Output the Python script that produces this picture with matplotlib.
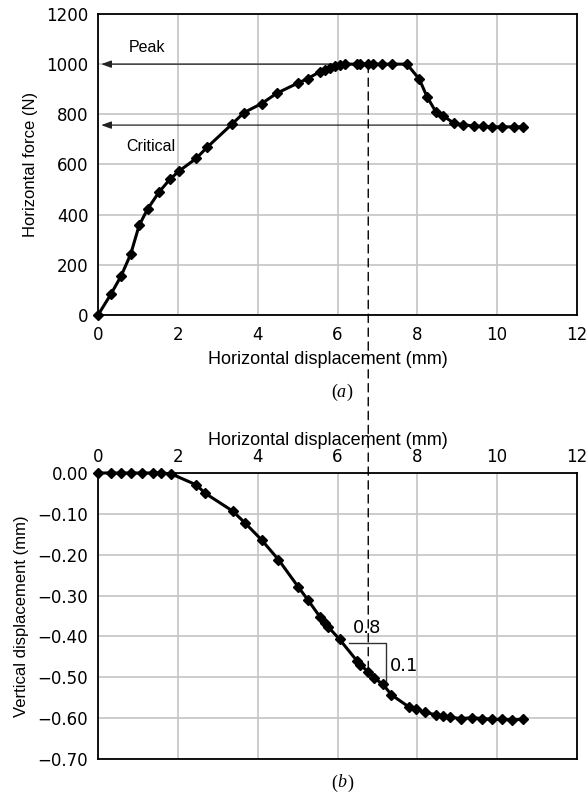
import matplotlib
matplotlib.use("Agg")
import matplotlib.pyplot as plt
from matplotlib.patches import ConnectionPatch

# (a) horizontal force vs horizontal displacement
dx_a = [0, 0.32, 0.58, 0.82, 1.03, 1.24, 1.53, 1.80, 2.04, 2.46, 2.73, 3.35,
        3.66, 4.10, 4.48, 5.00, 5.25, 5.56, 5.69, 5.80, 5.94, 6.07, 6.19, 6.48,
        6.57, 6.77, 6.90, 7.11, 7.36, 7.74, 8.05, 8.24, 8.47, 8.64, 8.91, 9.14,
        9.41, 9.64, 9.87, 10.12, 10.41, 10.64]
force = [0, 82, 156, 243, 357, 422, 490, 541, 575, 624, 668, 760,
         807, 843, 884, 924, 942, 970, 977, 984, 993, 997, 1000, 1000,
         1000, 1000, 1000, 1000, 1000, 1000, 940, 871, 808, 795, 765, 758,
         754, 752, 750, 750, 750, 750]

# (b) vertical displacement vs horizontal displacement
dx_b = [0, 0.32, 0.58, 0.82, 1.11, 1.37, 1.58, 1.83, 2.46, 2.69, 3.37, 3.68,
        4.10, 4.52, 5.01, 5.26, 5.56, 5.69, 5.77, 6.05, 6.48, 6.57, 6.77, 6.92,
        7.13, 7.35, 7.78, 7.97, 8.20, 8.47, 8.64, 8.82, 9.09, 9.37, 9.62, 9.88,
        10.13, 10.37, 10.64]
dy_b = [0, 0, 0, 0, 0, 0, 0, -0.002, -0.029, -0.050, -0.093, -0.122,
        -0.164, -0.212, -0.278, -0.311, -0.352, -0.366, -0.377, -0.407, -0.459, -0.470, -0.486, -0.503,
        -0.516, -0.543, -0.572, -0.578, -0.586, -0.592, -0.595, -0.598, -0.601, -0.599, -0.601, -0.603,
        -0.603, -0.604, -0.603]

peak = 1000
critical = 757
x_peak = 6.77
x_crit_end = 8.86

xticks = [0, 2, 4, 6, 8, 10, 12]
yticks_a = [0, 200, 400, 600, 800, 1000, 1200]
yticks_b = [0.0, -0.1, -0.2, -0.3, -0.4, -0.5, -0.6, -0.7]

plt.rcParams['font.family'] = ['Liberation Sans', 'DejaVu Sans']
tickfont = {'family': 'DejaVu Sans', 'size': 12}
grid_c = '#c4c4c4'

fig = plt.figure(figsize=(5.88, 7.94), dpi=100)
ax1 = fig.add_axes([0.1667, 0.6033, 0.8146, 0.3791])
ax2 = fig.add_axes([0.1667, 0.0441, 0.8146, 0.3602])

for ax in (ax1, ax2):
    ax.set_xlim(0, 12)
    ax.set_xticks(xticks)
    ax.grid(True, color=grid_c, lw=1.2)
    ax.set_axisbelow(True)
    ax.tick_params(length=0)
    for s in ax.spines.values():
        s.set_linewidth(1.3)
    ax.set_xticklabels([str(t) for t in xticks], fontdict=tickfont)

# top chart
ax1.set_ylim(0, 1200)
ax1.set_yticks(yticks_a)
ax1.set_yticklabels([str(t) for t in yticks_a], fontdict=tickfont)
ax1.tick_params(axis='y', pad=7)
ax1.tick_params(axis='x', pad=8)
ax1.plot(dx_a, force, color='black', lw=2.2, marker='D', ms=5.5, clip_on=False, zorder=4)
ax1.set_xlabel('Horizontal displacement (mm)', fontsize=13, labelpad=5)
ax1.xaxis.label.set_x(0.479)
ax1.set_ylabel('Horizontal force (N)', fontsize=12, labelpad=6)

arrow_kw = dict(arrowstyle='-|>,head_length=0.6,head_width=0.22', color='#222222', lw=0.9,
                shrinkA=0, shrinkB=0)
ax1.annotate('', xy=(0.08, peak), xytext=(x_peak, peak), arrowprops=arrow_kw)
ax1.annotate('', xy=(0.08, critical), xytext=(x_crit_end, critical), arrowprops=arrow_kw)
ax1.text(1.22, 1068, 'Peak', fontsize=11.5, ha='center', va='center')
ax1.text(1.32, 670, 'Critical', fontsize=11.5, ha='center', va='center')

# bottom chart
ax2.set_ylim(-0.7, 0)
ax2.set_yticks(yticks_b)
ax2.set_yticklabels(['0.00'] + ['\u2212%.2f' % abs(t) for t in yticks_b[1:]], fontdict=tickfont)
ax2.tick_params(axis='y', pad=7)
ax2.xaxis.tick_top()
ax2.xaxis.set_label_position('top')
ax2.tick_params(axis='x', pad=5)
ax2.plot(dx_b, dy_b, color='black', lw=2.2, marker='D', ms=5.5, clip_on=False, zorder=4)
ax2.set_xlabel('Horizontal displacement (mm)', fontsize=13, labelpad=2)
ax2.xaxis.label.set_x(0.479)
ax2.set_ylabel('Vertical displacement (mm)', fontsize=12, labelpad=6)

# slope triangle
ax2.plot([6.3, 7.21, 7.21], [-0.416, -0.416, -0.511], color='#333333', lw=1.0, zorder=3)
ax2.text(6.75, -0.38, '0.8', fontsize=13, family='DejaVu Sans', ha='center', va='center')
ax2.text(7.67, -0.472, '0.1', fontsize=13, family='DejaVu Sans', ha='center', va='center')

# dashed line through both panels
con = ConnectionPatch(xyA=(x_peak, peak), coordsA=ax1.transData,
                      xyB=(x_peak, -0.486), coordsB=ax2.transData,
                      color='black', lw=1.0, linestyle=(0, (6, 4)), zorder=3)
fig.add_artist(con)

ya, yb = 0.506, 0.014
fig.text(0.573, ya, '(', fontsize=13, family='Liberation Serif', ha='right', va='center')
fig.text(0.573, ya, 'a', fontsize=13, family='Liberation Serif', style='italic', ha='left', va='center')
fig.text(0.573 + 0.017, ya, ')', fontsize=13, family='Liberation Serif', ha='left', va='center')
fig.text(0.573, yb, '(', fontsize=13, family='Liberation Serif', ha='right', va='center')
fig.text(0.573, yb, 'b', fontsize=13, family='Liberation Serif', style='italic', ha='left', va='center')
fig.text(0.573 + 0.018, yb, ')', fontsize=13, family='Liberation Serif', ha='left', va='center')

fig.savefig('out.png', dpi=100)
